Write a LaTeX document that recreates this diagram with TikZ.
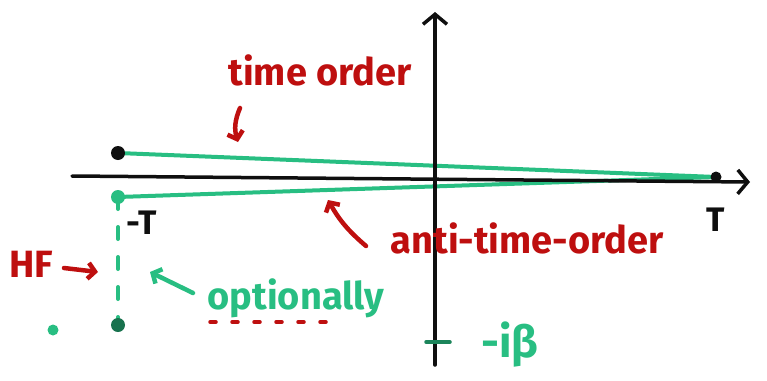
\documentclass[tikz,border=0pt]{standalone}
\usepackage{fontspec}
\setmainfont{Fira Sans}
\usetikzlibrary{arrows.meta}
\definecolor{pgreen}{RGB}{40,190,130}
\definecolor{pred}{RGB}{190,15,15}
\definecolor{pblack}{RGB}{15,15,15}
\tikzset{
  axis/.style={pblack, line width=3.5pt, line cap=round, -{Straight Barb[length=10pt,width=24pt,line width=3.5pt]}},
  gline/.style={pgreen, line width=4pt, line cap=round},
  rtext/.style={pred, font=\fontsize{38}{40}\selectfont\bfseries, inner sep=0pt},
  gtext/.style={pgreen, font=\fontsize{38}{40}\selectfont\bfseries, inner sep=0pt},
  ktext/.style={pblack, font=\fontsize{34}{36}\selectfont\bfseries, inner sep=0pt},
  rarrow/.style={pred, line width=4.5pt, line cap=round, -{Straight Barb[length=7pt,width=16pt,line width=4.5pt]}},
  garrow/.style={pgreen, line width=4.5pt, line cap=round, -{Straight Barb[length=7pt,width=16pt,line width=4.5pt]}},
  dot/.style={circle, fill=#1, inner sep=0pt, minimum size=14pt},
}
\begin{document}
\begin{tikzpicture}[x=1pt,y=-1pt]
\useasboundingbox (0,0) rectangle (767,380);
% coordinates
\coordinate (hl) at (72,176);
\coordinate (hr) at (750,182);
\coordinate (vb) at (435,365);
\coordinate (vt) at (435,12);
\coordinate (Ac) at (118,153);
\coordinate (Bc) at (118,197);
\coordinate (Cc) at (118,325);
\coordinate (Ec) at (716,177);
% green contour lines
\draw[gline] (Ac) -- (Ec);
\draw[gline] (Bc) -- (Ec);
\draw[gline, dash pattern=on 12pt off 18pt] (Bc) -- (Cc);
% axes
\draw[axis] (hl) -- (hr);
\draw[axis] (vb) -- (vt);
% points
\node[dot=pblack] (A) at (Ac) {};
\node[dot=pgreen] (B) at (Bc) {};
\node[dot=pgreen!60!black] (C) at (Cc) {};
\node[dot=pblack, minimum size=11pt] (E) at (Ec) {};
\node[dot=pgreen, minimum size=11pt] (G) at (53,330) {};
% tick at -i beta
\coordinate (t1) at (426,342);
\coordinate (t2) at (450,342);
\draw[pgreen!70!black, line width=3.5pt, line cap=round] (t1) -- (t2);
% labels
\node[ktext] (mT) at (142,223) {-T};
\node[ktext] (T) at (716,220) {T};
\node[rtext] (to) at (320,70) {time order};
\coordinate (toa1) at (240,108);
\coordinate (toa2) at (238,142);
\draw[rarrow] (toa1) to[bend right=20] (toa2);
\node[rtext] (ato) at (527,238) {anti-time-order};
\coordinate (ata1) at (366,246);
\coordinate (ata2) at (328,200);
\draw[rarrow] (ata1) to[bend left=10] (ata2);
\node[rtext] (hf) at (31,264) {HF};
\coordinate (hfa0) at (64,268);
\coordinate (hfa) at (98,272);
\draw[rarrow] (hfa0) -- (hfa);
\node[gtext] (opt) at (296,298) {optionally};
\coordinate (oa1) at (193,293);
\coordinate (oa2) at (150,272);
\draw[garrow] (oa1) -- (oa2);
\coordinate (u1) at (210,322);
\coordinate (u2) at (332,322);
\draw[pred, line width=3.5pt, dash pattern=on 6pt off 16pt, line cap=round] (u1) -- (u2);
\node[gtext, font=\fontsize{44}{46}\selectfont\bfseries] (ib) at (510,345) {-iβ};
\end{tikzpicture}
\end{document}
